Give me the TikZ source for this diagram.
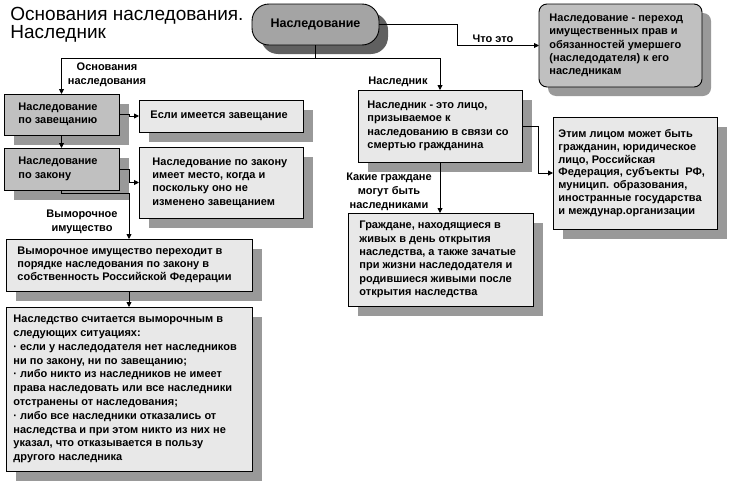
\documentclass[tikz,border=0pt]{standalone}
\usepackage{fontspec}
\setmainfont{Liberation Sans}
\usetikzlibrary{arrows.meta,shadows}
\definecolor{boxgray}{HTML}{C0C0C0}
\definecolor{shgray}{HTML}{999999}
\definecolor{ovalgray}{HTML}{A4A4A4}
\definecolor{ovalsh}{HTML}{606060}
\definecolor{dotfill}{HTML}{E8E8E8}
\newcommand{\bodyfont}{\bfseries\fontsize{11}{13.3}\selectfont}
\begin{document}
\begin{tikzpicture}[x=1pt,y=-1pt,line width=0.9pt,
  frame/.style={draw=black,anchor=north west,inner sep=0pt,outer sep=0pt},
  shd/.style={general shadow={fill=shgray,shadow xshift=10pt,shadow yshift=-10pt}},
  graybox/.style={frame,fill=boxgray,shd},
  dotbox/.style={frame,fill=dotfill,shd},
  txt/.style={anchor=west,align=left,inner sep=0pt,font=\bodyfont},
  lbl/.style={align=center,inner sep=0pt,font=\bfseries\fontsize{11}{14}\selectfont},
  conn/.style={draw=black,-{Triangle[length=5pt,width=5pt]}},
  plain/.style={draw=black}]
\useasboundingbox (0,0) rectangle (729,482);

% title
\node[anchor=north west,align=left,inner sep=0pt,font=\fontsize{19}{17.5}\selectfont] (title) at (10,7) {Основания наследования.\\Наследник};

% top oval
\node[frame,fill=ovalgray,rounded corners=17pt,minimum width=127pt,minimum height=41pt,
  general shadow={fill=ovalsh,shadow xshift=9pt,shadow yshift=-9pt},
  font=\bfseries\fontsize{12.5}{14}\selectfont] (ov) at (252,4) {Наследование};

% definition box
\node[frame,fill=boxgray,rounded corners=8pt,minimum width=163pt,minimum height=83pt,
  general shadow={fill=shgray,shadow xshift=9pt,shadow yshift=-9pt}] (def) at (539,4) {};
\node[txt] (deft) at ([xshift=10pt]def.west) {Наследование - переход\\имущественных прав и\\обязанностей умершего\\(наследодателя) к его\\наследникам};

% left column
\node[graybox,minimum width=115pt,minimum height=41pt] (b1) at (4,94) {};
\node[txt] (b1t) at ([xshift=14pt]b1.west) {Наследование\\по завещанию};
\node[dotbox,minimum width=164pt,minimum height=32pt] (esl) at (139,100) {};
\node[txt] (eslt) at ([xshift=11pt]esl.west) {Если имеется завещание};
\node[graybox,minimum width=115pt,minimum height=42pt] (b2) at (4,148) {};
\node[txt] (b2t) at ([xshift=14pt]b2.west) {Наследование\\по закону};
\node[dotbox,minimum width=164pt,minimum height=71pt] (law) at (139,147) {};
\node[txt] (lawt) at ([xshift=13pt]law.west) {Наследование по закону\\имеет место, когда и\\поскольку оно не\\изменено завещанием};
\node[dotbox,minimum width=246pt,minimum height=52pt] (vym1) at (6,239) {};
\node[txt] (vym1t) at ([xshift=11pt]vym1.west) {Выморочное имущество переходит в\\порядке наследования по закону в\\собственность Российской Федерации};
\node[dotbox,minimum width=246pt,minimum height=164pt] (vym2) at (6,307) {};
\node[txt,font=\bfseries\fontsize{11}{13.8}\selectfont] (vym2t) at ([xshift=7pt]vym2.west) {Наследство считается выморочным в\\следующих ситуациях:\\· если у наследодателя нет наследников\\ни по закону, ни по завещанию;\\· либо никто из наследников не имеет\\права наследовать или все наследники\\отстранены от наследования;\\· либо все наследники отказались от\\наследства и при этом никто из них не\\указал, что отказывается в пользу\\другого наследника};

% middle / right
\node[dotbox,minimum width=164pt,minimum height=72pt] (nasl) at (358,90) {};
\node[txt] (naslt) at ([xshift=9pt]nasl.west) {Наследник - это лицо,\\призываемое к\\наследованию в связи со\\смертью гражданина};
\node[dotbox,minimum width=185pt,minimum height=93pt] (gr) at (348,213) {};
\node[txt] (grt) at ([xshift=11pt]gr.west) {Граждане, находящиеся в\\живых в день открытия\\наследства, а также зачатые\\при жизни наследодателя и\\родившиеся живыми после\\открытия наследства};
\node[dotbox,minimum width=164pt,minimum height=112pt] (etim) at (553,117) {};
\node[txt,font=\bfseries\fontsize{11}{12.8}\selectfont] (etimt) at ([xshift=5pt]etim.west) {Этим лицом может быть\\гражданин, юридическое\\лицо, Российская\\Федерация, субъекты\ \ РФ,\\муницип. образования,\\иностранные государства\\и междунар.организации};

% connectors
\draw[conn] (ov.east) -- ++(78,0) |- (def.west);
\draw[conn] (ov.south) -- ++(0,13) -| (b1.north);
\draw[conn] (ov.south) -- ++(0,13) -| (nasl.north);
\draw[conn] (b1.south) -- (b2.north);
\draw[conn] (b1.east) -- ++(10,0) |- (esl.west);
\draw[conn] (b2.east) -- ++(10,0) |- (law.west);
\draw[conn] (b2.south) -- ++(0,3) -| (vym1.north);
\draw[conn] (vym1.south) -- (vym2.north);
\draw[conn] (nasl.east) -- ++(16,0) |- (etim.west);
\draw[conn] (nasl.south) -- (nasl.south |- gr.north);

% labels
\node[lbl] (l1) at (107,75) {Основания\\наследования};
\node[lbl] (l2) at (82,222) {Выморочное\\имущество};
\node[lbl] (l3) at (398,82) {Наследник};
\node[lbl] (l4) at (389,192) {Какие граждане\\могут быть\\наследниками};
\node[lbl] (l5) at (493,39) {Что это};
\end{tikzpicture}
\end{document}
